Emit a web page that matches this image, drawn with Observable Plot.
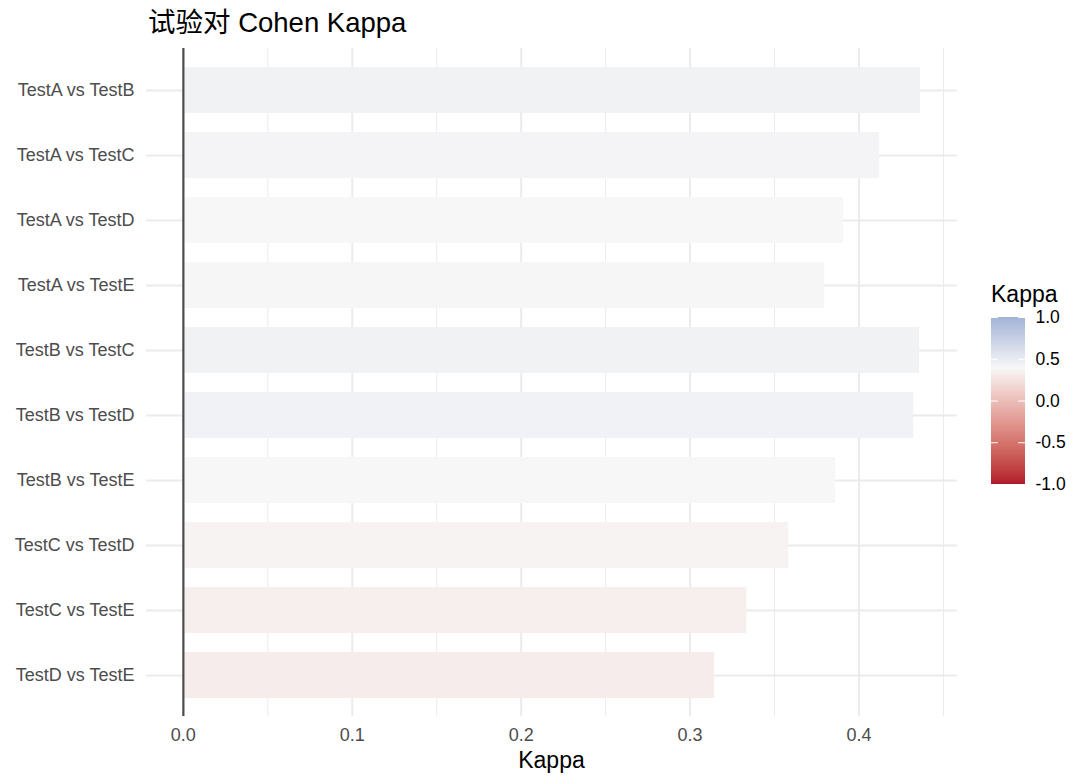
<!DOCTYPE html>
<html>
<head>
<meta charset="utf-8">
<script src="https://cdn.jsdelivr.net/npm/d3@7"></script>
<script src="https://cdn.jsdelivr.net/npm/@observablehq/plot@0.6"></script>
<style>
  html, body { margin: 0; padding: 0; background: #fff; }
  #root { position: relative; width: 1092px; height: 784px; overflow: hidden;
          font-family: "Liberation Sans", Arial, "Noto Sans CJK SC", sans-serif; }
  #root svg { position: absolute; overflow: visible; }
  .title { position: absolute; left: 148px; top: 9px; font-size: 27.5px; line-height: 1; color: #000; white-space: nowrap; }
  .xlabel { position: absolute; left: 146px; width: 811px; top: 749px; text-align: center; font-size: 23px; line-height: 1; color: #000; }
  .ltitle { position: absolute; left: 991px; top: 283px; font-size: 23px; line-height: 1; color: #000; }
</style>
</head>
<body>
<div id="root">
  <div class="title">试验对 Cohen Kappa</div>
  <div class="xlabel">Kappa</div>
  <div class="ltitle">Kappa</div>
</div>
<script>
// ---- data ----
const pairs = ["TestA vs TestB", "TestA vs TestC", "TestA vs TestD", "TestA vs TestE",
               "TestB vs TestC", "TestB vs TestD", "TestB vs TestE",
               "TestC vs TestD", "TestC vs TestE", "TestD vs TestE"];
const kappa = [0.4365, 0.4122, 0.3909, 0.3797, 0.4359, 0.4324, 0.3862, 0.3584, 0.3336, 0.3146];
const xTicks = [0, 0.1, 0.2, 0.3, 0.4];
const xMinor = [0.05, 0.15, 0.25, 0.35, 0.45];
const legendTicks = [-1, -0.5, 0, 0.5, 1];

const lowColor = "#b2182b", midColor = "#f7f7f7", highColor = "#2166ac";
const limits = [-1, 1];
const midpoint = d3.mean(kappa);

const data = pairs.map((p, i) => ({pair: p, kappa: kappa[i]}));

// ggplot-like gradient2 (rescale around midpoint, Lab interpolation)
const maxDist = Math.max(midpoint - limits[0], limits[1] - midpoint);
function gradient2(t) {
  const v = limits[0] + t * (limits[1] - limits[0]);
  const r = 0.5 + (v - midpoint) / (2 * maxDist);
  return r < 0.5 ? d3.interpolateLab(lowColor, midColor)(r * 2)
                 : d3.interpolateLab(midColor, highColor)((r - 0.5) * 2);
}
const colorScale = {type: "linear", domain: limits, interpolate: () => gradient2};

const xmax = d3.max(kappa);
const pad = 0.05 * xmax;
const grid = "#ebebeb";
const fmt = d => d.toFixed(1);
const font = '"Liberation Sans", Arial, sans-serif';

const main = Plot.plot({
  width: 1092, height: 784,
  marginTop: 48, marginBottom: 68, marginLeft: 146, marginRight: 135,
  style: {fontFamily: font, background: "transparent"},
  x: {domain: [-pad, xmax + pad]},
  y: {type: "band", domain: pairs, paddingInner: 0.3, paddingOuter: 0.25},
  color: colorScale,
  marks: [
    Plot.ruleX(xMinor, {stroke: grid, strokeWidth: 1}),
    Plot.ruleX(xTicks, {stroke: grid, strokeWidth: 2}),
    Plot.ruleY(pairs, {y: d => d, stroke: grid, strokeWidth: 2}),
    Plot.barX(data, {x: "kappa", y: "pair", fill: "kappa"}),
    Plot.ruleX([0], {stroke: "#4d4d4d", strokeWidth: 2.2}),
    Plot.axisX({ticks: xTicks, tickFormat: fmt, tickSize: 0, tickPadding: 12, fill: "#4d4d4d", fontSize: 18, label: null}),
    Plot.axisY({tickSize: 0, tickPadding: 12, fill: "#4d4d4d", fontSize: 18, label: null})
  ]
});
main.style.left = "0px"; main.style.top = "0px";
document.getElementById("root").appendChild(main);

// ---- legend colourbar ----
const steps = d3.range(0, 200).map(i => limits[0] + i * 0.01);
const legend = Plot.plot({
  width: 100, height: 199,
  marginTop: 16, marginBottom: 16, marginLeft: 0, marginRight: 66,
  style: {fontFamily: font, background: "transparent"},
  x: {domain: [0, 1], axis: null},
  y: {domain: limits},
  color: colorScale,
  marks: [
    Plot.rect(steps, {x1: 0, x2: 1, y1: d => d, y2: d => Math.min(d + 0.014, 1), fill: d => d + 0.005, shapeRendering: "crispEdges"}),
    Plot.ruleY(legendTicks, {x1: 0, x2: 0.2, stroke: "white", strokeWidth: 1}),
    Plot.ruleY(legendTicks, {x1: 0.8, x2: 1, stroke: "white", strokeWidth: 1}),
    Plot.axisY({anchor: "right", ticks: legendTicks, tickFormat: fmt, tickSize: 0, tickPadding: 10, fill: "#000", fontSize: 17.5, label: null, textAnchor: "start"})
  ]
});
legend.style.left = "991px"; legend.style.top = "301px";
document.getElementById("root").appendChild(legend);
</script>
</body>
</html>
